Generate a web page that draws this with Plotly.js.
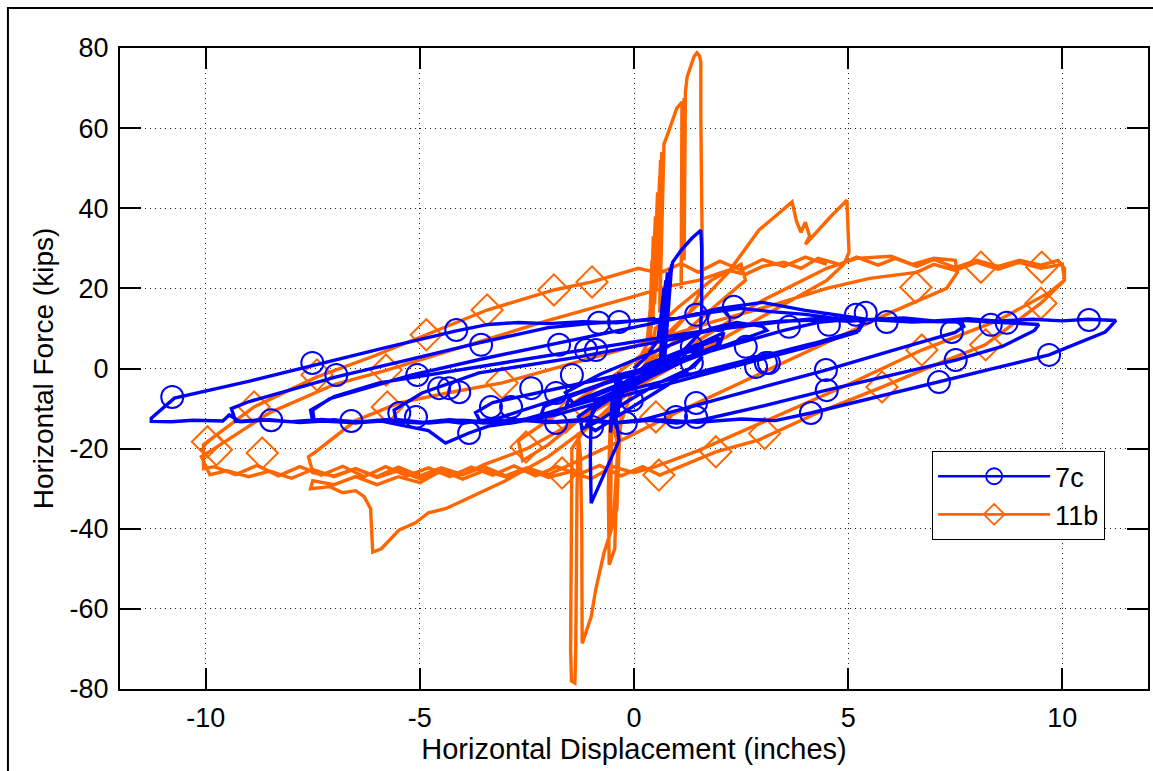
<!DOCTYPE html>
<html>
<head>
<meta charset="utf-8">
<script src="https://cdn.plot.ly/plotly-3.0.1.min.js"></script>
<style>
  html, body { margin:0; padding:0; background:#fff; }
  #chart { width:1153px; height:771px; }
</style>
</head>
<body>
<div id="chart"></div>
<script>
// ---------- DATA (displacement in inches, force in kips) ----------
const seriesNames = ['7c', '11b'];
const xTicks = [-10, -5, 0, 5, 10];
const yTicks = [-80, -60, -40, -20, 0, 20, 40, 60, 80];

// Specimen 7c : hysteresis path, cycle by cycle
const blue7cSpikes = [[0,0],[0.3,3],[0.55,7],[0.62,12],[0.7,20],[0.62,2],[0.68,14],[0.74,22],[0.64,1],[0.72,17],[0.78,24],[0.66,0],[0.75,16],[0.85,25],[0.7,1],[0.8,19],[0.88,26],[0.72,3],[0.84,22],[0.9,26.5],[1.1,29.5],[1.35,32.5],[1.5,34],[1.56,34.5],[1.58,30],[1.58,15],[1.55,9],[1.2,5],[0.6,1],[0,-3],[-0.5,-6],[-0.9,-8],[-1.0,-12],[-1.02,-22],[-1.0,-33.6],[-0.85,-30],[-0.6,-24],[-0.35,-18],[-0.5,-6],[-0.55,-16],[-0.42,-3],[-0.47,-14],[-0.35,-1],[-0.38,-12],[-0.3,-2],[-0.5,-10],[-0.28,-4]];
const blue7cSmall = [[0.3,1],[1.0,4],[1.5,6],[1.45,3.5],[0.6,0],[-0.4,-4],[-1.2,-7.5],[-1.6,-10],[-1.5,-7],[-0.6,-3.5],[0.4,0.5],[1.3,4.5],[2.0,7.5],[1.9,4.8],[1.0,1],[0,-3],[-1,-7],[-1.9,-11],[-2.2,-12.5],[-2.1,-9.5],[-1.2,-5.5],[0,-1],[1,3],[1.6,5.5]];
const blue7cCenter = [[1.2,2],[0.4,-2],[-0.4,-6.5],[-0.9,-10],[-1.1,-14],[-0.9,-15.5],[-0.4,-12],[0.2,-8],[0.8,-4],[1.3,0],[1.6,3],[1.4,0.5],[0.6,-3.5],[-0.2,-8.5],[-0.8,-13],[-1.2,-15],[-1.3,-12],[-0.7,-7.5],[0,-3.5],[0.8,1.5],[1.5,6],[2.1,9],[2.0,6],[1.2,2.5],[0.3,-1.5],[-0.6,-5.5],[-1.4,-9],[-1.6,-6],[-0.8,-1.5],[0.2,3],[1,6.5],[1.8,10],[2.4,11.5]];
const blue7cCycle3 = [[3.0,10.5],[3.1,9.5],[2.2,6],[1.0,2],[-0.3,-2.5],[-1.5,-6.5],[-2.5,-10],[-3.2,-12.5],[-3.6,-13],[-3.7,-11],[-3.3,-8.5],[-2,-5.5],[-0.5,-2],[1,2],[2.5,6.5],[3.5,9.5],[4.3,11.5],[5.0,12.2],[5.4,12.2]];
const blue7cCycle5 = [[5.25,9.5],[4.2,6.3],[2.92,2.9],[1.5,-1],[0,-5],[-1.5,-9.5],[-2.5,-12.5],[-3.0,-13.6],[-3.5,-12.9],[-4.0,-13.7],[-4.5,-13.0],[-5.0,-13.6],[-5.55,-13.2],[-5.6,-10.4],[-4.95,-6.1],[-3.62,-1.1],[-1.28,2.9],[1.0,7.5],[2.2,10.5],[3.4,11.8],[4.6,12.2],[5.35,12]];
const blue7cCycle6 = [[5.2,9],[4.0,5.2],[2.5,1.0],[1.0,-3.2],[-0.5,-7.5],[-1.8,-11.5],[-2.8,-13.5],[-3.4,-14.4],[-3.85,-16.1],[-4.4,-18.6],[-4.8,-15.5],[-5.5,-14],[-6.0,-12.9],[-6.5,-13.6],[-7.0,-12.8],[-7.5,-13.2],[-7.55,-10.4],[-7.0,-7],[-5.95,-3.6],[-3,1.5],[0,6.5],[1.5,9.2],[3.4,11.6],[4.2,12.4],[5,11.8],[5.8,12.4],[6.5,11.8],[7.65,11.6]];
const blue7cCycle7 = [[7.7,10.5],[7.5,9],[6.2,5],[4.48,-0.4],[2.92,-4.9],[1.5,-9],[0.2,-12.8],[-0.5,-13.6],[-1.2,-12.9],[-2.0,-13.5],[-2.8,-12.7],[-3.5,-13.5],[-4.3,-12.8],[-5.0,-13.5],[-5.8,-12.8],[-6.6,-13.5],[-7.47,-13],[-7.5,-10.4],[-7.1,-7.5],[-5.18,-1.6],[-3.5,2.5],[-1.75,6.4],[0,10.2],[1.0,12.5],[2.0,15],[3.0,16.5],[4.0,14.5],[5.5,12.2],[6.5,11.6],[7.5,12.1],[8.7,11.4],[9.45,11]];
const blue7cCycle9 = [[9.35,9.5],[8.6,5.5],[7.51,2.1],[6,-1.7],[4.5,-5.4],[2.92,-9.6],[1.6,-12.8],[1.0,-13.6],[0.3,-12.9],[-0.5,-13.5],[-1.2,-12.7],[-2.0,-13.4],[-2.8,-12.8],[-3.5,-13.6],[-4.2,-12.9],[-5.0,-13.5],[-5.8,-12.8],[-6.5,-13.4],[-7.3,-12.7],[-8.0,-13.3],[-8.7,-12.8],[-9.3,-13.2],[-9.4,-10],[-9.0,-8.3],[-6.95,-2.1],[-5.3,2.1],[-3.62,6.4],[-2.0,10.2],[-1.0,11.3],[0,11.9],[1,12.5],[1.8,14],[2.5,15],[3.2,14.2],[4,13.5],[4.8,12.4],[5.5,12.2],[6.3,12.6],[7,11.9],[7.8,12.4],[8.5,11.8],[9.3,12.3],[10,11.9],[10.6,12.3],[11.25,12]];
const blue7cCycle11 = [[11.1,10.2],[11.0,9.1],[9.69,3.4],[8.4,0],[7.12,-3.4],[5.6,-7.3],[4.13,-11.1],[3.3,-13],[2.5,-12.6],[1.5,-13.4],[0.5,-12.8],[-0.3,-13.5],[-1,-12.9],[-1.8,-13.4],[-2.5,-12.7],[-3.2,-13.5],[-4,-12.9],[-4.8,-13.6],[-5.5,-12.8],[-6.3,-13.4],[-7,-12.9],[-7.8,-13.5],[-8.5,-12.8],[-9.2,-13.3],[-9.45,-11.6],[-9.6,-13.1],[-10.3,-12.9],[-10.8,-13.3],[-11.27,-13.2],[-11.27,-12.4],[-10.73,-7.4],[-9,-3.2],[-7.47,0.9],[-5.8,5.2],[-4.15,9.4],[-3.4,11],[-2.7,11.5],[-2,11.2],[-1.2,11.7],[-0.4,11.4],[0.5,12.5]];

// Specimen 7c : marker positions (circles)
const blue7cMarkX = [-10.78,-7.51,-6.95,-8.47,-6.6,-5.48,-4.15,-3.57,-5.06,-4.55,-4.32,-4.08,-5.09,-2.4,-1.75,-3.34,-2.87,-1.82,-1.45,-1.12,-0.89,-0.82,-0.35,-1.82,-3.85,-0.98,-0.19,-0.05,1.45,2.33,1.98,1.35,1.35,2.61,2.85,3.15,1.45,1.45,0.98,10.62,8.7,8.33,7.42,5.9,5.41,5.18,4.55,3.62,9.69,7.51,7.12,4.48,4.5,4.13,3.08];
const blue7cMarkY = [-7.1,1.4,-1.6,-12.9,-13.1,-11.1,9.6,5.9,-1.6,-4.9,-4.9,-5.9,-12.1,-4.9,5.9,-9.6,-9.6,-6.1,-1.6,4.6,4.6,11.4,11.6,-13.6,-16.1,-14.6,-13.6,-7.9,13.4,15.4,12.1,5.4,1.4,5.4,0.4,1.4,-8.6,-12.1,-12.1,12.1,11.4,10.9,9.1,11.6,13.9,13.4,10.9,10.4,3.4,2.1,-3.4,-0.4,-5.4,-11.1,1.4];

// Specimen 11b : hysteresis path, cycle by cycle
const orange11bSpikes = [[0,0],[0.3,6],[0.38,15],[0.42,27],[0.38,6],[0.45,33],[0.4,10],[0.5,38],[0.44,12],[0.55,44],[0.48,16],[0.6,48],[0.52,20],[0.62,52],[0.56,24],[0.65,54],[0.6,14],[0.7,56],[0.82,59.5],[1.0,65],[1.12,66.5],[1.1,20],[1.14,50],[1.17,67.5],[1.17,27],[1.2,69],[1.24,72.8],[1.32,75.5],[1.4,77.8],[1.47,78.8],[1.53,78],[1.56,76.5],[1.56,63],[1.58,42],[1.6,25],[1.57,19.6],[1.3,14],[0.8,8],[0.2,0],[-0.3,-6],[-0.6,-10],[-0.9,-13],[-1.2,-16],[-1.45,-20],[-1.47,-45],[-1.48,-70],[-1.46,-78],[-1.38,-78.5],[-1.36,-70],[-1.35,-50],[-1.33,-30],[-1.3,-16],[-1.25,-22],[-1.22,-40],[-1.21,-55],[-1.21,-68.6],[-1.0,-62],[-0.89,-55],[-0.7,-46],[-0.55,-41],[-0.4,-35],[-0.35,-20],[-0.55,-12],[-0.6,-30],[-0.58,-49],[-0.45,-45],[-0.4,-28],[-0.3,-12],[-0.52,-8],[-0.55,-40],[-0.48,-38],[-0.35,-15],[0,-4],[0.4,4],[0.5,10]];
const orange11bCycle2 = [[1.0,15],[1.8,22],[2.5,26],[2.6,22],[1.5,12],[0,-2],[-1.2,-12],[-2,-19],[-2.6,-23],[-2.7,-18],[-1.6,-10],[-0.5,-2],[0.5,6],[1.5,16],[2.2,24]];
const orange11bCycle5 = [[2.92,34.6],[3.3,38],[3.69,41.6],[3.8,36.5],[3.9,34],[4.0,36.5],[4.1,33],[4.0,31],[4.3,34.5],[4.6,38],[4.97,42],[5.0,35],[5.02,29],[4.9,26],[4.5,22],[3,13],[1.5,4],[0,-5],[-1.5,-14],[-2.5,-20],[-3.5,-24],[-4.0,-26.5],[-4.5,-25.5],[-5.0,-28.5],[-5.5,-27],[-6.0,-29],[-6.5,-27],[-7.0,-29],[-7.5,-28],[-7.55,-30],[-7.1,-29.5],[-6.8,-31],[-6.5,-30.5],[-6.3,-32],[-6.15,-35],[-6.1,-45.8],[-5.9,-45],[-5.48,-40.3],[-5.1,-38.5],[-4.8,-36],[-4.4,-35],[-4,-33],[-3,-28],[-2,-22],[-1,-14],[0,-5],[1.5,7],[3,17],[4.5,25],[5.2,27.5],[6,28],[6.5,26],[7,27.5],[7.5,27]];
const orange11bCycle7 = [[7.55,24],[7.3,20],[6,14],[5,9],[3,-1],[1,-11],[-0.5,-19],[-1.5,-24],[-2.0,-26.5],[-2.5,-24.8],[-3,-26.8],[-3.5,-24.5],[-4,-26.5],[-4.5,-24.8],[-5,-26.8],[-5.5,-24.6],[-6,-27],[-6.5,-25],[-7,-26.8],[-7.5,-26],[-7.6,-22],[-7.47,-21.1],[-6.5,-13],[-5.48,-8.6],[-4.3,-6],[-3.08,-3.6],[-1.5,1],[0.28,6.4],[1.8,11.5],[3.38,16.3],[4.5,20],[5.5,22.5],[6.6,24],[7.0,26],[7.5,24.5],[8,26.5],[8.5,24.8],[9,26.5],[9.5,25],[10,26]];
const orange11bCycle10a = [[10.05,22],[9.7,19],[8.5,12],[6.72,4.6],[5,-4],[3,-13.5],[1.5,-20.5],[0.5,-24.5],[0,-26],[-0.5,-24.5],[-1,-27.5],[-1.5,-25.8],[-2,-27.2],[-2.5,-25],[-3,-27],[-3.5,-25.5],[-4,-27.6],[-4.5,-25.4],[-5,-27.5],[-5.5,-25.5],[-6,-27.2],[-6.5,-25],[-7,-27],[-7.5,-25.2],[-8,-27.4],[-8.5,-25.6],[-9,-27],[-9.5,-25.5],[-9.9,-26.5],[-10.1,-22],[-9.8,-20],[-8.5,-11],[-7,-4],[-5.77,-0.4],[-4,5.5],[-2,12],[0,18],[0.8,20.5],[1.5,22],[2.2,24.5],[2.6,23.5],[3,25.5],[3.5,26.5],[3.9,25],[4.3,27.5],[4.8,26],[5.2,27.8],[5.7,25.8],[6.1,27.5],[6.6,25.5],[7,27.2],[7.5,25.2],[8,27],[8.5,25.5],[9,27],[9.5,25.8],[9.9,27],[10.05,25]];
const orange11bCycle10b = [[10.05,22],[9.5,16.3],[8.2,5.9],[7,0.8],[5.8,-4.6],[4.3,-11],[2.92,-17.8],[1.91,-20.8],[0.6,-26.6],[0.2,-24.5],[-0.3,-26.8],[-0.8,-24.2],[-1.3,-26.5],[-1.8,-24.5],[-2.3,-26.8],[-2.8,-24.3],[-3.3,-26.6],[-3.8,-24.6],[-4.3,-27],[-4.8,-24.8],[-5.3,-26.8],[-5.8,-24.5],[-6.3,-27],[-6.8,-24.4],[-7.3,-26.6],[-7.8,-24.5],[-8.3,-26.8],[-8.8,-24.2],[-9.3,-26.5],[-9.8,-24.5],[-10.05,-25],[-10.05,-19],[-8.87,-9.6],[-7.4,-2.1],[-6.1,3],[-4.85,8.4],[-3.43,14.6],[-1.87,19.6],[-0.98,21.6],[0.1,25],[0.6,23.8],[1.1,26.2],[1.5,24],[2,26.8],[2.5,24.6],[3,27.2],[3.5,25.5],[4,27.8],[4.5,26]];

// Specimen 11b : marker positions (diamonds)
const orange11bMarkX = [-9.96,-9.75,-8.87,-8.68,-7.4,-5.76,-5.79,-4.85,-3.43,-1.87,-0.98,-3.08,-2.52,-1.68,-1.59,0.58,1.91,0.51,3.05,9.52,8.1,6.58,9.5,8.21,6.72,5.79];
const orange11bMarkY = [-18.3,-20.3,-9.6,-21.1,-1.6,-9.6,-0.4,8.4,14.6,19.6,21.6,-3.6,-19.6,-26.1,-12.1,-26.6,-20.8,-12.1,-16.2,25.3,25.3,20.3,16.3,5.9,4.6,-4.6];

// ---------- BUILD ----------
const blue7cPath = [].concat(blue7cSpikes, blue7cSmall, blue7cCenter, blue7cCycle3, blue7cCycle5, blue7cCycle6, blue7cCycle7, blue7cCycle9, blue7cCycle11);
const orange11bPath = [].concat(orange11bSpikes, orange11bCycle2, orange11bCycle5, orange11bCycle7, orange11bCycle10a, orange11bCycle10b);

const BLUE = '#0000ff';
const ORANGE = '#ff6600';
const FONT = 'Liberation Sans, Arial, Helvetica, sans-serif';

const traces = [
  { type:'scatter', mode:'lines', x: orange11bPath.map(p=>p[0]), y: orange11bPath.map(p=>p[1]),
    line:{color:ORANGE, width:3.4}, showlegend:false, hoverinfo:'skip' },
  { type:'scatter', mode:'markers', x: orange11bMarkX, y: orange11bMarkY,
    marker:{symbol:'diamond-open', size:24, color:ORANGE, line:{color:ORANGE, width:2}}, showlegend:false, hoverinfo:'skip' },
  { type:'scatter', mode:'lines', x: blue7cPath.map(p=>p[0]), y: blue7cPath.map(p=>p[1]),
    line:{color:BLUE, width:3.4}, showlegend:false, hoverinfo:'skip' },
  { type:'scatter', mode:'markers', x: blue7cMarkX, y: blue7cMarkY,
    marker:{symbol:'circle-open', size:22, color:BLUE, line:{color:BLUE, width:2}}, showlegend:false, hoverinfo:'skip' },
  { type:'scatter', mode:'lines+markers', name: seriesNames[0], x:[null], y:[null],
    line:{color:BLUE, width:2.6}, marker:{symbol:'circle-open', size:22, color:BLUE, line:{color:BLUE, width:1.8}} },
  { type:'scatter', mode:'lines+markers', name: seriesNames[1], x:[null], y:[null],
    line:{color:ORANGE, width:2.6}, marker:{symbol:'diamond-open', size:24, color:ORANGE, line:{color:ORANGE, width:1.8}} }
];

const axisCommon = {
  ticks:'inside', ticklen:21, tickwidth:2, tickcolor:'#000',
  showline:true, linewidth:2, linecolor:'#000', mirror:'ticks',
  showgrid:true, gridcolor:'#222', griddash:'1px,4px', gridwidth:1,
  zeroline:false, fixedrange:true,
  tickfont:{family:FONT, size:27, color:'#000'}
};

const layout = {
  width:1153, height:771,
  margin:{l:120, r:5, t:48, b:82},
  paper_bgcolor:'#ffffff', plot_bgcolor:'#ffffff',
  font:{family:FONT, color:'#000'},
  xaxis: Object.assign({}, axisCommon, {
    range:[-12,12], tickmode:'array', tickvals:xTicks, ticktext:xTicks.map(String),
    ticklabelstandoff:4,
    title:{text:'Horizontal Displacement (inches)', font:{family:FONT, size:29, color:'#000'}, standoff:2}
  }),
  yaxis: Object.assign({}, axisCommon, {
    range:[-80,80], tickmode:'array', tickvals:yTicks, ticktext:yTicks.map(String),
    ticklabelstandoff:4,
    title:{text:'Horizontal Force (kips)', font:{family:FONT, size:28, color:'#000'}, standoff:8}
  }),
  showlegend:true,
  legend:{x:0.79, y:0.371, xanchor:'left', yanchor:'top', bgcolor:'#ffffff',
    bordercolor:'#000', borderwidth:1, font:{family:FONT, size:27, color:'#000'},
    itemwidth:112, tracegroupgap:0},
  shapes:[{type:'rect', xref:'paper', yref:'paper', x0:-0.109, x1:1.2, y0:-0.25, y1:1.0624,
    line:{color:'#000', width:2}, fillcolor:'rgba(0,0,0,0)', layer:'above'}]
};

Plotly.newPlot('chart', traces, layout, {displayModeBar:false, staticPlot:true});
</script>
</body>
</html>
